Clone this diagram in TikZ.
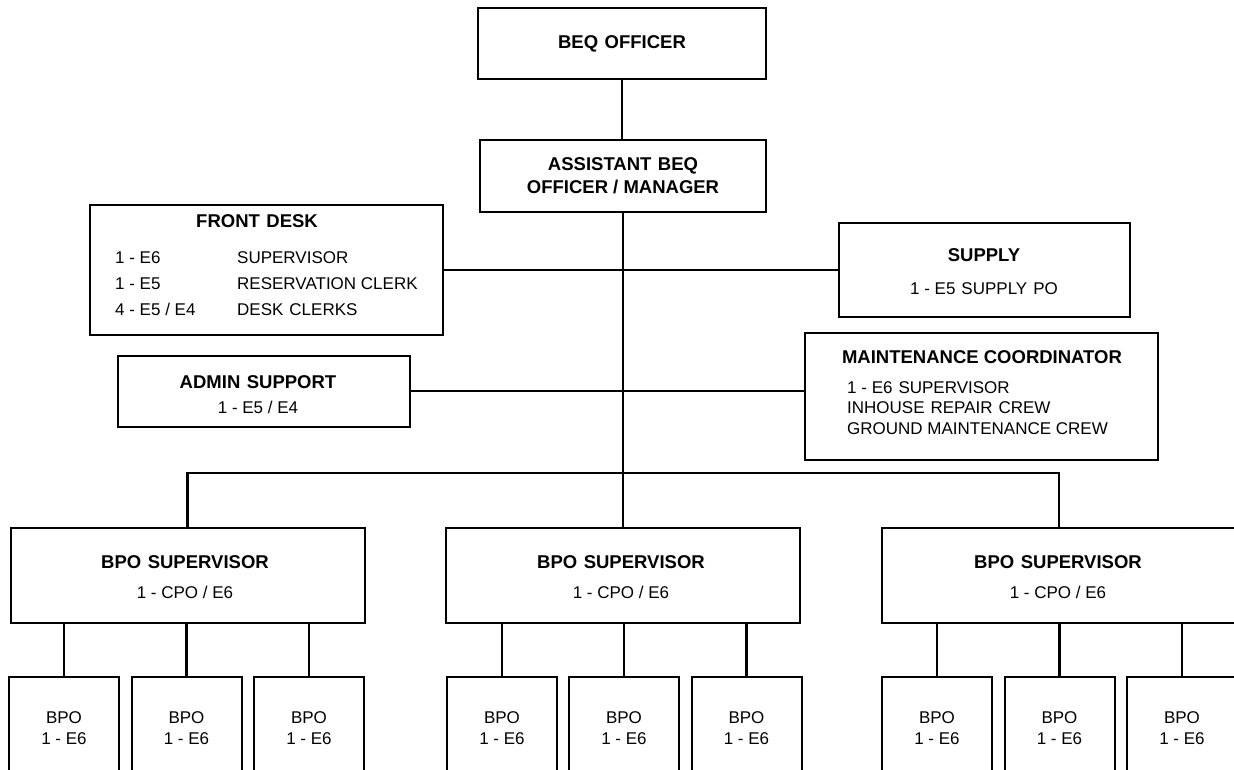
\documentclass[tikz,border=0pt]{standalone}
\usepackage{fontspec}
\setmainfont{Liberation Sans}
\newcommand\gap{\hspace{0.35em}}
\tikzset{
  box/.style={draw, line width=2pt, rectangle, inner sep=0pt, align=center},
  head/.style={font=\fontsize{18.5}{23}\selectfont\bfseries, inner sep=0pt, align=center},
  body/.style={font=\fontsize{17}{21}\selectfont, inner sep=0pt},
  bpo/.style={box, font=\fontsize{17}{21}\selectfont, minimum width=110pt, minimum height=102pt},
  sup/.style={box, minimum width=354pt, minimum height=95pt},
  link/.style={line width=2.4pt},
}
\begin{document}
\begin{tikzpicture}[x=1pt,y=-1pt]
\useasboundingbox (0,0) rectangle (1234,770);
\clip (0,0) rectangle (1234,770);
% top
\node[box, head, minimum width=288pt, minimum height=71pt] (beq) at (622,43.5) {BEQ\gap OFFICER};
\node[box, head, minimum width=286pt, minimum height=72pt] (asst) at (623,176) {ASSISTANT\gap BEQ\\OFFICER / MANAGER};
% front desk
\node[box, minimum width=353pt, minimum height=130pt] (fd) at (266.5,270) {};
\node[head, anchor=base] (fdT) at (257,228) {FRONT\gap DESK};
\node[body, anchor=base west] (fd1a) at (115,263) {1 - E6};
\node[body, anchor=base west] (fd1b) at (237,263) {SUPERVISOR};
\node[body, anchor=base west] (fd2a) at (115,289) {1 - E5};
\node[body, anchor=base west] (fd2b) at (237,289) {RESERVATION CLERK};
\node[body, anchor=base west] (fd3a) at (115,315) {4 - E5 / E4};
\node[body, anchor=base west] (fd3b) at (237,315) {DESK\gap CLERKS};
% supply
\node[box, minimum width=291pt, minimum height=94pt] (sup) at (984.5,270) {};
\node[head, anchor=base] (supT) at (984,261.6) {SUPPLY};
\node[body, anchor=base] (supS) at (984,294) {1 - E5\gap SUPPLY\gap PO};
% maintenance
\node[box, minimum width=353pt, minimum height=127pt] (mnt) at (981.5,396.5) {};
\node[head, anchor=base] (mntT) at (982,363.6) {MAINTENANCE COORDINATOR};
\node[body, anchor=base west] (mnt1) at (847,393) {1 - E6\gap SUPERVISOR};
\node[body, anchor=base west] (mnt2) at (847,413) {INHOUSE\gap REPAIR\gap CREW};
\node[body, anchor=base west] (mnt3) at (847,434) {GROUND MAINTENANCE CREW};
% admin
\node[box, minimum width=292pt, minimum height=71pt] (adm) at (264,391) {};
\node[head, anchor=base] (admT) at (258,388.6) {ADMIN\gap SUPPORT};
\node[body, anchor=base] (admS) at (258,413) {1 - E5 / E4};
% supervisors
\node[sup] (s1) at (187.5,575.5) {};
\node[sup] (s2) at (623,575.5) {};
\node[sup] (s3) at (1059,575.5) {};
\node[head, anchor=base] (s1T) at (185,568.6) {BPO\gap SUPERVISOR};
\node[body, anchor=base] (s1S) at (185,598) {1 - CPO / E6};
\node[head, anchor=base] (s2T) at (621,568.6) {BPO\gap SUPERVISOR};
\node[body, anchor=base] (s2S) at (621,598) {1 - CPO / E6};
\node[head, anchor=base] (s3T) at (1058,568.6) {BPO\gap SUPERVISOR};
\node[body, anchor=base] (s3S) at (1058,598) {1 - CPO / E6};
% BPO boxes
\node[bpo] (b11) at (64,728) {BPO\\1 - E6};
\node[bpo] (b12) at (186.5,728) {BPO\\1 - E6};
\node[bpo] (b13) at (309,728) {BPO\\1 - E6};
\node[bpo] (b21) at (502,728) {BPO\\1 - E6};
\node[bpo] (b22) at (624,728) {BPO\\1 - E6};
\node[bpo] (b23) at (746.5,728) {BPO\\1 - E6};
\node[bpo] (b31) at (937,728) {BPO\\1 - E6};
\node[bpo] (b32) at (1059.5,728) {BPO\\1 - E6};
\node[bpo] (b33) at (1182,728) {BPO\\1 - E6};
% connectors
\coordinate (bus) at (623,473);
\draw[link] (beq.south) -- (beq.south |- asst.north);
\draw[link] (asst.south) -- (asst.south |- s2.north);
\draw[link] (fd.east) -- (sup.west);
\draw[link] (adm.east) -- (adm.east -| mnt.west);
\draw[link] (s1.north) |- (bus) -| (s3.north);
\foreach \b/\s in {b11/s1,b12/s1,b13/s1,b21/s2,b22/s2,b23/s2,b31/s3,b32/s3,b33/s3}
  \draw[link] (\b.north) -- (\b.north |- \s.south);
\end{tikzpicture}
\end{document}
